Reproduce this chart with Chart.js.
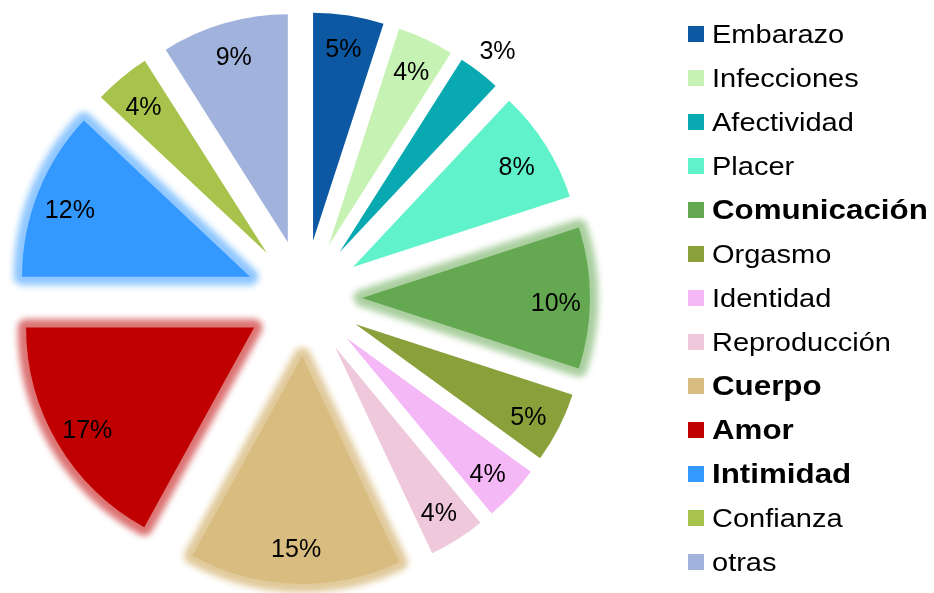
<!DOCTYPE html>
<html>
<head>
<meta charset="utf-8">
<script src="https://cdn.jsdelivr.net/npm/chart.js@4/dist/chart.umd.min.js"></script>
<style>
    html, body { margin: 0; padding: 0; background: #fff; }
    #wrap { position: relative; width: 934px; height: 593px; overflow: hidden; }
    #chartBox { position: absolute; left: 0; top: 0; width: 934px; height: 593px; }
    #legend { position: absolute; left: 688px; top: 0; font-family: "Liberation Sans", Arial, sans-serif; color: #000; }
    .row { position: absolute; left: 0; height: 44px; display: flex; align-items: center; white-space: nowrap; }
    .box { width: 16px; height: 16px; margin-right: 8px; flex: none; }
    .txt { display: inline-block; font-size: 25px; transform: scaleX(1.16); transform-origin: left center; }
    .txt.bold { font-weight: bold; font-size: 27px; }
</style>
</head>
<body>
<div id="wrap">
    <div id="chartBox"><canvas id="pieChart"></canvas></div>
    <div id="legend"></div>
</div>
<script>
const categories = ['Embarazo', 'Infecciones', 'Afectividad', 'Placer', 'Comunicación', 'Orgasmo', 'Identidad', 'Reproducción', 'Cuerpo', 'Amor', 'Intimidad', 'Confianza', 'otras'];
const shares = [5, 4, 3, 8, 10, 5, 4, 4, 15, 17, 12, 4, 9];
const sliceColors = ['#0c58a2', '#c6f2b4', '#08a9b1', '#60f3cb', '#64a851', '#8aa03b', '#f4b8f6', '#efc9db', '#d8bc80', '#c00000', '#3399ff', '#a8c34c', '#a1b3dc'];
const boldItems = ['Comunicación', 'Cuerpo', 'Amor', 'Intimidad'];
const glowColors = {
    'Comunicación': 'rgba(100, 168, 81, .55)',
    'Cuerpo': 'rgba(212, 180, 112, .7)',
    'Amor': 'rgba(192, 0, 0, .55)',
    'Intimidad': 'rgba(51, 153, 255, .55)'
};
const outsideLabels = ['Afectividad'];

const explode = 58;

// draws each slice pulled out from the centre, with a soft glow on the highlighted ones
const explodePlugin = {
    id: 'explode',
    beforeDatasetDraw(chart, args) {
        const ctx = chart.ctx;
        args.meta.data.forEach((arc, i) => {
            const mid = (arc.startAngle + arc.endAngle) / 2;
            ctx.save();
            ctx.translate(Math.cos(mid) * explode, Math.sin(mid) * explode);
            const glow = glowColors[categories[i]];
            if (glow) {
                ctx.save();
                ctx.filter = 'blur(3px)';
                ctx.beginPath();
                ctx.moveTo(arc.x, arc.y);
                ctx.arc(arc.x, arc.y, arc.outerRadius, arc.startAngle, arc.endAngle);
                ctx.closePath();
                ctx.lineJoin = 'round';
                ctx.lineWidth = 17;
                ctx.strokeStyle = glow;
                ctx.stroke();
                ctx.restore();
            }
            arc.draw(ctx);
            ctx.restore();
        });
        return false;
    },
    afterDatasetsDraw(chart) {
        const ctx = chart.ctx;
        const meta = chart.getDatasetMeta(0);
        ctx.save();
        ctx.font = '25px "Liberation Sans", Arial, sans-serif';
        ctx.fillStyle = '#000';
        ctx.textAlign = 'center';
        ctx.textBaseline = 'middle';
        meta.data.forEach((arc, i) => {
            const mid = (arc.startAngle + arc.endAngle) / 2;
            const r = arc.outerRadius * (outsideLabels.includes(categories[i]) ? 1.13 : 0.85) + explode;
            const dx = Math.cos(mid);
            const dy = Math.sin(mid);
            // side labels sit a little lower, as in the original
            ctx.fillText(shares[i] + '%', arc.x + dx * r, arc.y + dy * r + 6 * Math.abs(dx));
        });
        ctx.restore();
    }
};

new Chart(document.getElementById('pieChart'), {
    type: 'pie',
    data: {
        labels: categories,
        datasets: [{
            data: shares,
            backgroundColor: sliceColors,
            borderWidth: 0,
            radius: 228,
            clip: false
        }]
    },
    options: {
        responsive: true,
        maintainAspectRatio: false,
        animation: false,
        layout: { padding: { left: 0, right: 326, top: 3, bottom: 0 } },
        plugins: { legend: { display: false }, tooltip: { enabled: false } }
    },
    plugins: [explodePlugin]
});

const legend = document.getElementById('legend');
categories.forEach((name, i) => {
    const row = document.createElement('div');
    row.className = 'row';
    row.style.top = (12 + i * 44) + 'px';
    const box = document.createElement('span');
    box.className = 'box';
    box.style.background = sliceColors[i];
    const txt = document.createElement('span');
    txt.className = boldItems.includes(name) ? 'txt bold' : 'txt';
    txt.textContent = name;
    row.appendChild(box);
    row.appendChild(txt);
    legend.appendChild(row);
});
</script>
</body>
</html>
